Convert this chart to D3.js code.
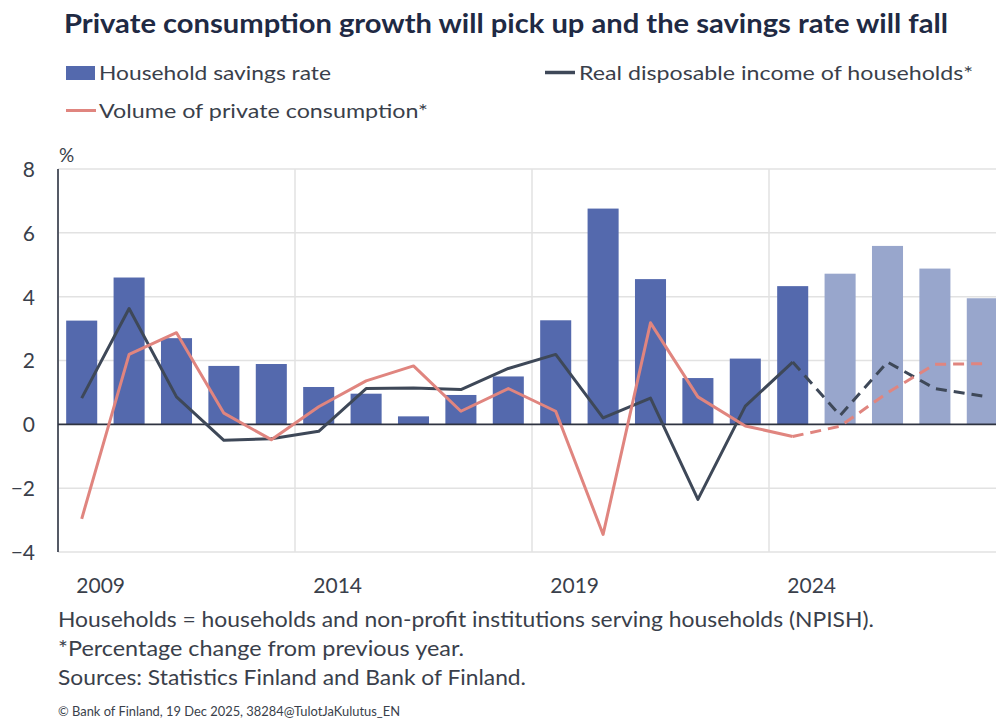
<!DOCTYPE html>
<html>
<head>
<meta charset="utf-8">
<script src="https://cdn.jsdelivr.net/npm/d3@7"></script>
<style>
  html, body { margin: 0; padding: 0; background: #ffffff; overflow: hidden; }
  svg { display: block; }
  text { font-family: "Liberation Sans Narrow", "Lato", "DejaVu Sans Condensed", sans-serif; }
</style>
</head>
<body>
<svg id="chart" width="996" height="722"></svg>
<script>
// ---- Data ----
const years = [2009, 2010, 2011, 2012, 2013, 2014, 2015, 2016, 2017, 2018,
               2019, 2020, 2021, 2022, 2023, 2024, 2025, 2026, 2027, 2028];
const forecastFrom = 2025;   // bars from this year are forecasts (lighter)
const lineSplitYear = 2024;  // lines dashed after this year
const savingsRate = [3.25, 4.6, 2.7, 1.83, 1.89, 1.17, 0.96, 0.25, 0.92, 1.5,
                     3.26, 6.76, 4.55, 1.45, 2.06, 4.33, 4.72, 5.59, 4.88, 3.95];
const realIncome  = [0.82, 3.63, 0.86, -0.5, -0.45, -0.22, 1.12, 1.14, 1.09, 1.75,
                     2.19, 0.2, 0.82, -2.35, 0.57, 1.95, 0.28, 1.95, 1.12, 0.89];
const consumption = [-2.96, 2.19, 2.87, 0.35, -0.48, 0.55, 1.36, 1.83, 0.41, 1.12,
                     0.41, -3.45, 3.18, 0.86, -0.05, -0.38, -0.06, 0.99, 1.88, 1.9];
const yTicks = [-4, -2, 0, 2, 4, 6, 8];
const xLabelYears = [2009, 2014, 2019, 2024];
const title = "Private consumption growth will pick up and the savings rate will fall";
const legendLabels = ["Household savings rate", "Real disposable income of households*", "Volume of private consumption*"];
const notes = [
  "Households = households and non-profit institutions serving households (NPISH).",
  "*Percentage change from previous year.",
  "Sources: Statistics Finland and Bank of Finland."
];
const copyright = "\u00A9 Bank of Finland, 19 Dec 2025, 38284@TulotJaKulutus_EN";

// ---- Styles ----
const C = {
  title: "#1f2a44",
  text: "#3a3f4b",
  bar: "#5469ad",
  barLight: "#98a6cc",
  income: "#3e4858",
  cons: "#e0857f",
  grid: "#e2e2e2",
  zero: "#2e3340",
  axis: "#555a66"
};

const svg = d3.select("#chart");
const plot = { left: 58, right: 1006, top: 169, bottom: 552 };

const x = d3.scaleBand().domain(years).range([plot.left, plot.right])
  .paddingInner(0.345).paddingOuter(0.1725);
const step = x.step();
const y = d3.scaleLinear().domain([-4, 8]).range([plot.bottom, plot.top]);
const cx = d => x(d) + x.bandwidth() / 2;

// ---- Title ----
svg.append("text").attr("x", 64).attr("y", 33)
  .attr("font-size", 26).attr("font-weight", "bold").attr("fill", C.title)
  .attr("textLength", 884).attr("lengthAdjust", "spacingAndGlyphs")
  .text(title);

// ---- Legend ----
svg.append("rect").attr("x", 66).attr("y", 66).attr("width", 29).attr("height", 14).attr("fill", C.bar);
svg.append("text").attr("x", 99).attr("y", 80).attr("font-size", 20).attr("fill", C.text)
  .attr("textLength", 232).attr("lengthAdjust", "spacingAndGlyphs").text(legendLabels[0]);
svg.append("line").attr("x1", 545).attr("x2", 575).attr("y1", 72.5).attr("y2", 72.5)
  .attr("stroke", C.income).attr("stroke-width", 3.5);
svg.append("text").attr("x", 579).attr("y", 80).attr("font-size", 20).attr("fill", C.text)
  .attr("textLength", 394).attr("lengthAdjust", "spacingAndGlyphs").text(legendLabels[1]);
svg.append("line").attr("x1", 66).attr("x2", 96).attr("y1", 110.5).attr("y2", 110.5)
  .attr("stroke", C.cons).attr("stroke-width", 3);
svg.append("text").attr("x", 99).attr("y", 118).attr("font-size", 20).attr("fill", C.text)
  .attr("textLength", 329).attr("lengthAdjust", "spacingAndGlyphs").text(legendLabels[2]);

// ---- Gridlines ----
const g = svg.append("g");
g.selectAll("line.hgrid").data(yTicks.filter(t => t !== 0)).join("line")
  .attr("class", "hgrid")
  .attr("x1", plot.left).attr("x2", plot.right)
  .attr("y1", d => y(d)).attr("y2", d => y(d))
  .attr("stroke", C.grid).attr("stroke-width", 1.5);
// vertical gridlines at category boundaries every 5 years
const vYears = [2014, 2019, 2024];
g.selectAll("line.vgrid").data(vYears).join("line")
  .attr("class", "vgrid")
  .attr("x1", d => x(d) - x.bandwidth() * 0 - (step - x.bandwidth()) / 2)
  .attr("x2", d => x(d) - (step - x.bandwidth()) / 2)
  .attr("y1", plot.top).attr("y2", plot.bottom)
  .attr("stroke", C.grid).attr("stroke-width", 1.5);

// ---- Bars ----
svg.append("g").selectAll("rect").data(years).join("rect")
  .attr("x", d => x(d))
  .attr("width", x.bandwidth())
  .attr("y", (d, i) => Math.min(y(savingsRate[i]), y(0)))
  .attr("height", (d, i) => Math.abs(y(savingsRate[i]) - y(0)))
  .attr("fill", d => d >= forecastFrom ? C.barLight : C.bar);

// ---- Axes ----
const yAxis = d3.axisLeft(y).tickValues(yTicks).tickSize(0).tickPadding(0)
  .tickFormat(d => d < 0 ? "\u2212" + Math.abs(d) : d);
const ya = svg.append("g").attr("transform", `translate(35,0)`).call(yAxis);
ya.select(".domain").remove();
ya.selectAll("text").attr("font-size", 21).attr("fill", C.text).attr("dy", "0.35em")
  .style("font-family", "\"Liberation Sans Narrow\", Lato, sans-serif");

svg.append("line").attr("x1", plot.left).attr("x2", plot.left)
  .attr("y1", plot.top).attr("y2", plot.bottom)
  .attr("stroke", C.axis).attr("stroke-width", 2);
svg.append("line").attr("x1", plot.left).attr("x2", plot.right)
  .attr("y1", y(0)).attr("y2", y(0))
  .attr("stroke", C.zero).attr("stroke-width", 1.6);

svg.append("text").attr("x", 59).attr("y", 162).attr("font-size", 19).attr("fill", C.text).text("%");

// x labels
svg.append("g").selectAll("text").data(xLabelYears).join("text")
  .attr("x", d => cx(d) + 19).attr("y", 593)
  .attr("text-anchor", "middle").attr("font-size", 21).attr("fill", C.text)
  .text(d => d);

// ---- Lines ----
const line = d3.line().x(d => cx(d.year)).y(d => y(d.v));
function drawSeries(vals, color) {
  const pts = years.map((yr, i) => ({ year: yr, v: vals[i] }));
  const solid = pts.filter(p => p.year <= lineSplitYear);
  const dashed = pts.filter(p => p.year >= lineSplitYear);
  svg.append("path").attr("d", line(solid)).attr("fill", "none")
    .attr("stroke", color).attr("stroke-width", 3).attr("stroke-linejoin", "round");
  svg.append("path").attr("d", line(dashed)).attr("fill", "none")
    .attr("stroke", color).attr("stroke-width", 3).attr("stroke-dasharray", "11,7");
}
drawSeries(realIncome, C.income);
drawSeries(consumption, C.cons);

// ---- Notes ----
const noteWidths = [816, 406, 468];
svg.append("g").selectAll("text").data(notes).join("text")
  .attr("x", 58).attr("y", (d, i) => 627 + i * 29)
  .attr("font-size", 21).attr("fill", C.text)
  .attr("textLength", (d, i) => noteWidths[i]).attr("lengthAdjust", "spacingAndGlyphs")
  .text(d => d);
svg.append("text").attr("x", 58).attr("y", 716).attr("font-size", 12.5).attr("fill", C.text)
  .attr("textLength", 342).attr("lengthAdjust", "spacingAndGlyphs")
  .text(copyright);
</script>
</body>
</html>
